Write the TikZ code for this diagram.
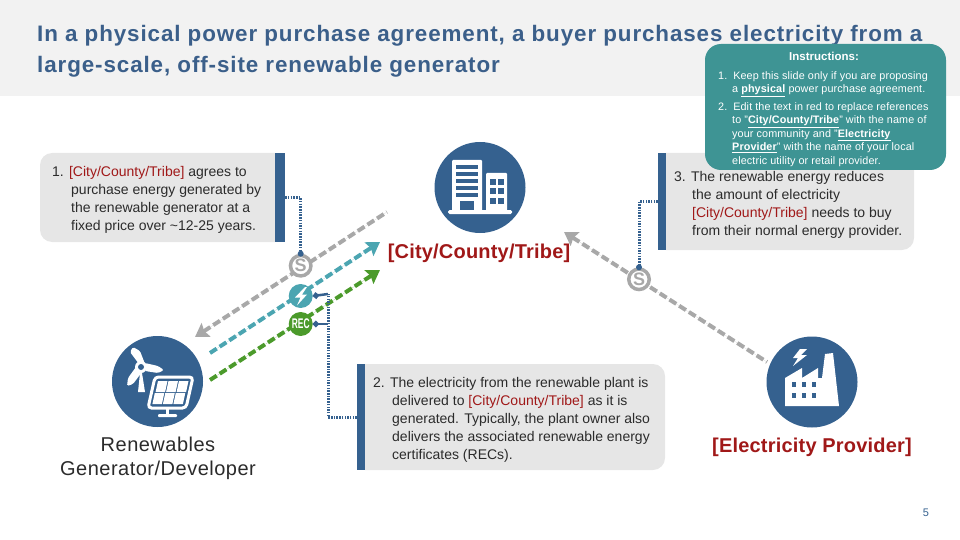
\documentclass[tikz,border=0pt]{standalone}
\usepackage{fontspec}
\setmainfont{Liberation Sans}
\usetikzlibrary{arrows.meta}
\definecolor{bandgrey}{HTML}{F2F2F2}
\definecolor{boxgrey}{HTML}{E6E6E6}
\definecolor{navy}{HTML}{35618F}
\definecolor{titleblue}{HTML}{3B5F8A}
\definecolor{notegreen}{HTML}{3E9494}
\definecolor{paygrey}{HTML}{A8A8A8}
\definecolor{powerteal}{HTML}{4BA5B1}
\definecolor{recgreen}{HTML}{4B9A2B}
\definecolor{placered}{HTML}{A01818}
\definecolor{bodytext}{HTML}{2B2B2B}
\newcommand{\placetxt}[1]{\textcolor{placered}{#1}}
\newcommand{\ind}{\hspace*{19pt}}
\tikzset{
  flow/.style={line width=4pt,dash pattern=on 8pt off 3.5pt,-{Stealth[length=13pt,width=16pt,inset=2pt]}},
  flowback/.style={line width=4pt,dash pattern=on 8pt off 3.5pt,{Stealth[length=13pt,width=16pt,inset=2pt]}-},
  bar/.style={fill=navy,inner sep=0pt},
  lead/.style={draw=navy,line width=3pt,dash pattern=on 1.5pt off 1.2pt},
  stub/.style={draw=navy,line width=2.5pt,-{Circle[length=6pt]}},
  hub/.style={circle,fill=navy,minimum size=91pt,inner sep=0pt},
  badge/.style={circle,minimum size=24pt,inner sep=0pt},
  paybadge/.style={badge,draw=paygrey,line width=3.5pt,fill=white,minimum size=20.5pt,text=paygrey,font=\fontsize{18}{18}\bfseries\selectfont},
  boxtext/.style={anchor=north west,align=left,inner sep=0pt,text=bodytext,font=\fontsize{14}{18}\selectfont},
  partylabel/.style={align=center,inner sep=0pt,text=placered,font=\fontsize{20}{24}\bfseries\addfontfeature{LetterSpace=1}\selectfont}
}

\begin{document}
\begin{tikzpicture}[x=1pt,y=-1pt]
    \useasboundingbox (0,0) rectangle (960,540);
    \fill [bandgrey] (0,0) rectangle (960,96);
    \node [anchor=north west,align=left,inner sep=0pt,text=titleblue,font=\fontsize{22.4}{31}\bfseries\addfontfeature{LetterSpace=4}\selectfont] (title) at (37,25)
      {In a physical power purchase agreement, a buyer purchases electricity from a\\large-scale, off-site renewable generator};

    % grey boxes
    \fill [boxgrey] (275,153) -- (275,242) [rounded corners=12pt] -- (40,242) -- (40,153) [sharp corners] -- cycle;
    \fill [boxgrey] (365,364) [rounded corners=12pt] -- (665,364) -- (665,470) [sharp corners] -- (365,470) -- cycle;
    \fill [boxgrey] (666,153) [rounded corners=12pt] -- (914,153) -- (914,250) [sharp corners] -- (666,250) -- cycle;
    \node [bar,minimum width=10pt,minimum height=89pt] (barA) at (280,197.5) {};
    \node [bar,minimum width=8pt,minimum height=106pt] (barB) at (361,417) {};
    \node [bar,minimum width=8pt,minimum height=97pt] (barC) at (662,201.5) {};
    \node [boxtext] (textA) at (52,166) {1. \placetxt{[City/County/Tribe]} agrees to\\\ind purchase energy generated by\\\ind the renewable generator at a\\\ind fixed price over \textasciitilde12-25 years.};
    \node [boxtext] (textB) at (373,377) {2. The electricity from the renewable plant is\\\ind delivered to \placetxt{[City/County/Tribe]} as it is\\\ind generated. Typically, the plant owner also\\\ind delivers the associated renewable energy\\\ind certificates (RECs).};
    \node [boxtext] (textC) at (674,171) {3. The renewable energy reduces\\\hspace*{18pt}the amount of electricity\\\hspace*{18pt}\placetxt{[City/County/Tribe]} needs to buy\\\hspace*{18pt}from their normal energy provider.};

    % parties
    \node [hub] (buyer) at (480,187.5) {};
    \node [hub] (plant) at (157.5,381.5) {};
    \node [hub] (utility) at (812,382) {};
    \node [partylabel] (buyerlabel) at (479,253) {[City/County/Tribe]};
    \node [partylabel,text=bodytext,font=\fontsize{20}{24}\addfontfeature{LetterSpace=2.5}\selectfont] (plantlabel) at (158,458.5) {Renewables\\Generator/Developer};
    \node [partylabel] (utilitylabel) at (812,447) {[Electricity Provider]};

    % building
    \fill [white,rounded corners=1pt] (452,160) rectangle (482,212);
    \fill [white,rounded corners=1pt] (486,173) rectangle (507,212);
    \fill [white,rounded corners=1.5pt] (448,210) rectangle (512,214);
    \foreach \y in {165,172,179,186,193}
      \fill [navy] (456,\y) rectangle (478,\y+3.8);
    \fill [navy] (460,201) rectangle (474,210);
    \foreach \x in {490,498}
      \foreach \y in {179,188,198}
        \fill [navy] (\x,\y) rectangle (\x+6,\y+6);

    % factory
    \fill [white] (785,406) -- (785,378) -- (802,368) -- (802,378) -- (818,368) -- (818,378) -- (822,378) -- (825,354) -- (833,353) -- (839,406) -- cycle;
    \foreach \x in {792,802,812}
      \foreach \y in {382,393}
        \fill [navy] (\x,\y) rectangle (\x+4,\y+5);
    \fill [white] (800,349) -- (793,358) -- (798,358) -- (793,366) -- (807,355) -- (801,355) -- (807,349) -- cycle;

    % turbine and panel
    \fill [white,rounded corners=1.5pt] (139,364) -- (130,352) -- (133,347) -- (140,351) -- (145,364) -- cycle;
    \fill [white,rounded corners=1.5pt] (145,363) -- (158,366) -- (164,370) -- (158,373) -- (145,371) -- cycle;
    \fill [white,rounded corners=1.5pt] (136,367) -- (128,378) -- (127,386) -- (133,384) -- (142,372) -- cycle;
    \fill [white] (140,373) -- (142,373) -- (145,392) -- (138,392) -- cycle;
    \fill [white] (141,367) circle (6);
    \fill [navy] (141,367) circle (3);
    \draw [white,line width=3pt,rounded corners=3.5pt] (155,377) -- (193,377) -- (186,408) -- (148,408) -- cycle;
    \foreach \c/\r in {0/0,1/0,2/0,0/1,1/1,2/1}
      \fill [white] ({158+\c*10.5-\r*3.2},{381+\r*12}) -- ++(9.5,0) -- ++(-2.4,11) -- ++(-9.5,0) -- cycle;
    \fill [white] (165.5,408) rectangle (169,415);
    \fill [white,rounded corners=1pt] (158,414) rectangle (177,417);

    % flows
    \coordinate (payFrom) at (387,212);
    \coordinate (payTo) at (195,337);
    \coordinate (powerFrom) at (210,353);
    \coordinate (powerTo) at (380,242);
    \coordinate (recFrom) at (210,380);
    \coordinate (recTo) at (380,270);
    \coordinate (billFrom) at (767,362);
    \coordinate (billTo) at (564,232);
    \draw [flowback,draw=paygrey,fill=paygrey] (payTo) -- (payFrom);
    \draw [flow,draw=powerteal,fill=powerteal] (powerFrom) -- (powerTo);
    \draw [flow,draw=recgreen,fill=recgreen] (recFrom) -- (recTo);
    \draw [flowback,draw=paygrey,fill=paygrey] (billTo) -- (billFrom);

    % badges
    \node [paybadge] (payA) at (300.7,265.7) {S};
    \node [paybadge] (payB) at (639,279.3) {S};
    \node [badge,fill=powerteal] (power) at (300.7,296) {};
    \fill [white] (305,287) -- (295,297.5) -- (300.5,297.5) -- (297,305.5) -- (307,294.5) -- (302,294.5) -- (307,287) -- cycle;
    \node [badge,fill=recgreen,text=white,font=\fontsize{14}{14}\bfseries\selectfont] (rec) at (300.7,324) {\scalebox{.6}[1]{REC}};

    % leads
    \coordinate (elbow) at (328,294);
    \coordinate (elbowrec) at (328,324);
    \draw [lead] (barA.east) -| (payA.north);
    \fill [navy] (payA.north) circle (3);
    \draw [lead] (barC.west) -| (payB.north);
    \fill [navy] (payB.north) circle (3);
    \draw [lead] (barB.west) -| (elbow);
    \draw [stub] (elbow) -- (power.east);
    \draw [stub] (elbowrec) -- (rec.east);

    % note
    \fill [notegreen,rounded corners=16pt] (705,44) rectangle (946,170);
    \node [inner sep=0pt,text=white,font=\fontsize{11.5}{13}\bfseries\selectfont] (notehead) at (824,56) {Instructions:};
    \node [anchor=north west,align=left,inner sep=0pt,text=white,font=\fontsize{10.8}{13.3}\addfontfeature{LetterSpace=1}\selectfont] (noteA) at (718,71) {1.\hspace*{6pt}Keep this slide only if you are proposing\\\hspace*{14pt}a \underline{\textbf{physical}} power purchase agreement.};
    \node [anchor=north west,align=left,inner sep=0pt,text=white,font=\fontsize{10.8}{13.5}\addfontfeature{LetterSpace=1}\selectfont] (noteB) at (718,102) {2.\hspace*{6pt}Edit the text in red to replace references\\\hspace*{14pt}to "\underline{\textbf{City/County/Tribe}}" with the name of\\\hspace*{14pt}your community and "\underline{\textbf{Electricity}}\\\hspace*{14pt}\underline{\textbf{Provider}}" with the name of your local\\\hspace*{14pt}electric utility or retail provider.};

    \node [inner sep=0pt,text=navy,font=\fontsize{11}{13}\selectfont] (pagenum) at (926,513) {5};
\end{tikzpicture}
\end{document}
